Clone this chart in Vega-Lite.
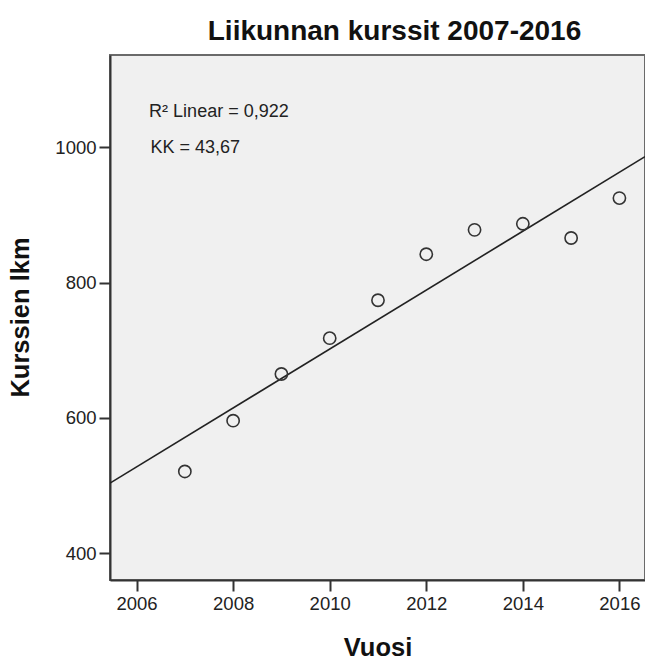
{
  "$schema": "https://vega.github.io/schema/vega-lite/v6.json",
  "autosize": "none",
  "width": 535,
  "height": 525,
  "padding": {"left": 110, "top": 55, "right": 0, "bottom": 82},
  "background": "white",
  "title": {
    "text": "Liikunnan kurssit 2007-2016",
    "font": "Liberation Sans",
    "fontSize": 28,
    "fontWeight": "bold",
    "color": "#111",
    "anchor": "middle",
    "dx": 17,
    "dy": 27,
    "baseline": "alphabetic",
    "offset": 14
  },
  "config": {
    "view": {"fill": "#f0f0f0", "stroke": "#6a6a6a", "strokeWidth": 2},
    "axis": {
      "grid": false,
      "domainColor": "#333",
      "domainWidth": 2,
      "tickColor": "#333",
      "tickWidth": 2,
      "tickSize": 11,
      "labelFont": "Liberation Sans",
      "labelFontSize": 18.5,
      "labelColor": "#222",
      "labelPadding": 3,
      "titleFont": "Liberation Sans",
      "titleFontSize": 25.5,
      "titleFontWeight": "bold",
      "titleColor": "#111"
    }
  },
  "data": {
    "values": [
      {"Vuosi": 2007, "Kurssit": 521},
      {"Vuosi": 2008, "Kurssit": 596},
      {"Vuosi": 2009, "Kurssit": 665},
      {"Vuosi": 2010, "Kurssit": 718},
      {"Vuosi": 2011, "Kurssit": 774},
      {"Vuosi": 2012, "Kurssit": 842},
      {"Vuosi": 2013, "Kurssit": 878},
      {"Vuosi": 2014, "Kurssit": 887},
      {"Vuosi": 2015, "Kurssit": 866},
      {"Vuosi": 2016, "Kurssit": 925}
    ]
  },
  "layer": [
    {
      "transform": [
        {"regression": "Kurssit", "on": "Vuosi", "extent": [2005.45, 2016.53]}
      ],
      "mark": {"type": "line", "color": "#222", "strokeWidth": 1.6, "clip": true},
      "encoding": {
        "x": {"field": "Vuosi", "type": "quantitative"},
        "y": {"field": "Kurssit", "type": "quantitative"}
      }
    },
    {
      "mark": {"type": "point", "shape": "circle", "filled": false, "size": 150, "stroke": "#333", "strokeWidth": 1.6, "opacity": 1},
      "encoding": {
        "x": {
          "field": "Vuosi",
          "type": "quantitative",
          "scale": {"domain": [2005.45, 2016.53], "nice": false, "zero": false},
          "axis": {
            "values": [2006, 2008, 2010, 2012, 2014, 2016],
            "format": "d",
            "title": "Vuosi",
            "titleY": 75,
            "titleBaseline": "alphabetic"
          }
        },
        "y": {
          "field": "Kurssit",
          "type": "quantitative",
          "scale": {"domain": [360.6, 1136.4], "nice": false, "zero": false},
          "axis": {
            "values": [400, 600, 800, 1000],
            "format": "d",
            "title": "Kurssien lkm",
            "titleX": -77,
            "titleY": 262
          }
        }
      }
    },
    {
      "data": {"values": [{}]},
      "mark": {"type": "text", "text": "R² Linear = 0,922", "align": "left", "baseline": "alphabetic", "font": "Liberation Sans", "fontSize": 18, "fontWeight": "normal", "color": "#222"},
      "encoding": {
        "x": {"datum": 2006.26},
        "y": {"datum": 1045}
      }
    },
    {
      "data": {"values": [{}]},
      "mark": {"type": "text", "text": "KK = 43,67", "align": "left", "baseline": "alphabetic", "font": "Liberation Sans", "fontSize": 18, "fontWeight": "normal", "color": "#222"},
      "encoding": {
        "x": {"datum": 2006.29},
        "y": {"datum": 991}
      }
    }
  ]
}
